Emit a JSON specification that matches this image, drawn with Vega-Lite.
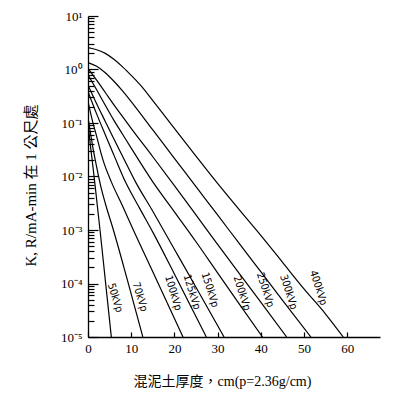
{
  "$schema": "https://vega.github.io/schema/vega-lite/v6.json",
  "width": 292,
  "height": 321,
  "autosize": "none",
  "padding": {"left": 88, "top": 16, "right": 23, "bottom": 60},
  "background": "white",
  "config": {
    "view": {"stroke": null},
    "axis": {"grid": false, "domainColor": "black", "tickColor": "black", "labelColor": "black", "titleColor": "black", "labelFont": "Liberation Serif", "titleFont": "Liberation Serif, Noto Sans CJK TC", "domainWidth": 1.3, "tickWidth": 1.2, "titleFontWeight": "normal"}
  },
  "resolve": {"axis": {"y": "independent"}},
  "datasets": {
    "curves": [
      {"kvp": "400kVp", "t": 0, "K": 2.57}, {"kvp": "400kVp", "t": 2, "K": 2.34}, {"kvp": "400kVp", "t": 4, "K": 2.0}, {"kvp": "400kVp", "t": 6, "K": 1.55}, {"kvp": "400kVp", "t": 8, "K": 1.12}, {"kvp": "400kVp", "t": 10, "K": 0.776}, {"kvp": "400kVp", "t": 12, "K": 0.525}, {"kvp": "400kVp", "t": 15, "K": 0.263}, {"kvp": "400kVp", "t": 20, "K": 0.0794}, {"kvp": "400kVp", "t": 25, "K": 0.024}, {"kvp": "400kVp", "t": 30, "K": 0.00741}, {"kvp": "400kVp", "t": 35, "K": 0.0024}, {"kvp": "400kVp", "t": 40, "K": 0.000794}, {"kvp": "400kVp", "t": 45, "K": 0.000251}, {"kvp": "400kVp", "t": 50, "K": 0.0000794}, {"kvp": "400kVp", "t": 55, "K": 0.0000269}, {"kvp": "400kVp", "t": 59.1, "K": 0.00001},
      {"kvp": "300kVp", "t": 0, "K": 1.35}, {"kvp": "300kVp", "t": 2, "K": 1.15}, {"kvp": "300kVp", "t": 4, "K": 0.871}, {"kvp": "300kVp", "t": 6, "K": 0.603}, {"kvp": "300kVp", "t": 8, "K": 0.398}, {"kvp": "300kVp", "t": 10, "K": 0.251}, {"kvp": "300kVp", "t": 15, "K": 0.0741}, {"kvp": "300kVp", "t": 20, "K": 0.0219}, {"kvp": "300kVp", "t": 25, "K": 0.00646}, {"kvp": "300kVp", "t": 30, "K": 0.00191}, {"kvp": "300kVp", "t": 35, "K": 0.000562}, {"kvp": "300kVp", "t": 40, "K": 0.000166}, {"kvp": "300kVp", "t": 45, "K": 0.000049}, {"kvp": "300kVp", "t": 51.6, "K": 0.00001},
      {"kvp": "250kVp", "t": 0, "K": 1.05}, {"kvp": "250kVp", "t": 2, "K": 0.631}, {"kvp": "250kVp", "t": 4, "K": 0.372}, {"kvp": "250kVp", "t": 6, "K": 0.219}, {"kvp": "250kVp", "t": 8, "K": 0.132}, {"kvp": "250kVp", "t": 10, "K": 0.0794}, {"kvp": "250kVp", "t": 15, "K": 0.0234}, {"kvp": "250kVp", "t": 20, "K": 0.00676}, {"kvp": "250kVp", "t": 25, "K": 0.00191}, {"kvp": "250kVp", "t": 30, "K": 0.000537}, {"kvp": "250kVp", "t": 35, "K": 0.000155}, {"kvp": "250kVp", "t": 40, "K": 0.0000447}, {"kvp": "250kVp", "t": 46, "K": 0.00001},
      {"kvp": "200kVp", "t": 0, "K": 0.794}, {"kvp": "200kVp", "t": 2, "K": 0.417}, {"kvp": "200kVp", "t": 4, "K": 0.214}, {"kvp": "200kVp", "t": 6, "K": 0.112}, {"kvp": "200kVp", "t": 8, "K": 0.0617}, {"kvp": "200kVp", "t": 10, "K": 0.0339}, {"kvp": "200kVp", "t": 15, "K": 0.00794}, {"kvp": "200kVp", "t": 20, "K": 0.00219}, {"kvp": "200kVp", "t": 25, "K": 0.000603}, {"kvp": "200kVp", "t": 30, "K": 0.000158}, {"kvp": "200kVp", "t": 35, "K": 0.0000417}, {"kvp": "200kVp", "t": 40.4, "K": 0.00001},
      {"kvp": "150kVp", "t": 0, "K": 0.513}, {"kvp": "150kVp", "t": 2, "K": 0.229}, {"kvp": "150kVp", "t": 4, "K": 0.107}, {"kvp": "150kVp", "t": 6, "K": 0.0501}, {"kvp": "150kVp", "t": 8, "K": 0.024}, {"kvp": "150kVp", "t": 11, "K": 0.00794}, {"kvp": "150kVp", "t": 15, "K": 0.00224}, {"kvp": "150kVp", "t": 20, "K": 0.000437}, {"kvp": "150kVp", "t": 25, "K": 0.0000851}, {"kvp": "150kVp", "t": 31.5, "K": 0.00001},
      {"kvp": "125kVp", "t": 0, "K": 0.389}, {"kvp": "125kVp", "t": 2, "K": 0.148}, {"kvp": "125kVp", "t": 4, "K": 0.0603}, {"kvp": "125kVp", "t": 6, "K": 0.0251}, {"kvp": "125kVp", "t": 8.66, "K": 0.00794}, {"kvp": "125kVp", "t": 12, "K": 0.00251}, {"kvp": "125kVp", "t": 15, "K": 0.000912}, {"kvp": "125kVp", "t": 20, "K": 0.000151}, {"kvp": "125kVp", "t": 27.4, "K": 0.00001},
      {"kvp": "100kVp", "t": 0, "K": 0.251}, {"kvp": "100kVp", "t": 1, "K": 0.112}, {"kvp": "100kVp", "t": 2, "K": 0.0562}, {"kvp": "100kVp", "t": 3.5, "K": 0.02}, {"kvp": "100kVp", "t": 5.4, "K": 0.00794}, {"kvp": "100kVp", "t": 8, "K": 0.00282}, {"kvp": "100kVp", "t": 10.5, "K": 0.001}, {"kvp": "100kVp", "t": 15, "K": 0.000166}, {"kvp": "100kVp", "t": 22, "K": 0.00001},
      {"kvp": "70kVp", "t": 0, "K": 0.126}, {"kvp": "70kVp", "t": 0.5, "K": 0.0708}, {"kvp": "70kVp", "t": 1, "K": 0.0398}, {"kvp": "70kVp", "t": 2, "K": 0.0151}, {"kvp": "70kVp", "t": 3, "K": 0.00631}, {"kvp": "70kVp", "t": 4, "K": 0.00316}, {"kvp": "70kVp", "t": 5.88, "K": 0.001}, {"kvp": "70kVp", "t": 9, "K": 0.000126}, {"kvp": "70kVp", "t": 12.7, "K": 0.00001},
      {"kvp": "50kVp", "t": 0, "K": 0.1}, {"kvp": "50kVp", "t": 0.5, "K": 0.0417}, {"kvp": "50kVp", "t": 1, "K": 0.0191}, {"kvp": "50kVp", "t": 1.55, "K": 0.00794}, {"kvp": "50kVp", "t": 2.78, "K": 0.001}, {"kvp": "50kVp", "t": 4, "K": 0.000117}, {"kvp": "50kVp", "t": 5.4, "K": 0.00001}
    ],
    "labels": [
      {"kvp": "50kVp", "t": 6.25, "K": 0.000054},
      {"kvp": "70kVp", "t": 12.0, "K": 0.000056},
      {"kvp": "100kVp", "t": 19.7, "K": 0.000066},
      {"kvp": "125kVp", "t": 24.0, "K": 0.000069},
      {"kvp": "150kVp", "t": 28.2, "K": 0.000076},
      {"kvp": "200kVp", "t": 35.6, "K": 0.000066},
      {"kvp": "250kVp", "t": 41.0, "K": 0.000076},
      {"kvp": "300kVp", "t": 46.4, "K": 0.000069},
      {"kvp": "400kVp", "t": 53.3, "K": 0.000083}
    ]
  },
  "layer": [
    {
      "data": {"name": "curves"},
      "mark": {"type": "line", "color": "black", "strokeWidth": 1.2, "interpolate": "monotone", "clip": true},
      "encoding": {
        "x": {"field": "t", "type": "quantitative", "scale": {"domain": [0, 67.6], "nice": false, "zero": false},
          "axis": {"title": "混泥土厚度，cm(p=2.36g/cm)", "titleFontSize": 14, "titleX": 134, "titleY": 44, "titleBaseline": "middle", "titleAnchor": null, "titleAlign": "center", "values": [0, 10, 20, 30, 40, 50, 60], "tickSize": -5, "labelFontSize": 13, "labelPadding": 10, "labelFlush": false}},
        "y": {"field": "K", "type": "quantitative", "scale": {"type": "log", "domain": [0.00001, 10], "nice": false},
          "axis": {"orient": "left", "title": "K, R/mA-min 在 1 公尺處", "titleFontSize": 15, "titleAngle": 270, "titleX": -58, "titleY": 169, "titleBaseline": "middle", "titleAlign": "center",
            "values": [0.00001, 0.0001, 0.001, 0.01, 0.1, 1, 10],
            "labelExpr": "datum.value == 10 ? '10¹' : datum.value == 1 ? '10⁰' : datum.value == 0.1 ? '10⁻¹' : datum.value == 0.01 ? '10⁻²' : datum.value == 0.001 ? '10⁻³' : datum.value == 0.0001 ? '10⁻⁴' : datum.value == 0.00001 ? '10⁻⁵' : ''",
            "tickSize": -10,
            "labelFontSize": 13, "labelPadding": 16, "labelFlush": false, "labelOverlap": false}},
        "detail": {"field": "kvp"}
      }
    },
    {
      "data": {"name": "labels"},
      "mark": {"type": "text", "font": "Liberation Sans Narrow, DejaVu Sans Condensed, Liberation Sans", "fontSize": 10.5, "align": "center", "baseline": "middle", "color": "black"},
      "encoding": {
        "x": {"field": "t", "type": "quantitative"},
        "y": {"field": "K", "type": "quantitative",
          "axis": {"orient": "left", "title": null, "labels": false, "domain": false, "tickSize": -6,
            "values": [0.00002, 0.00003, 0.00004, 0.00005, 0.00006, 0.00007, 0.00008, 0.00009, 0.0002, 0.0003, 0.0004, 0.0005, 0.0006, 0.0007, 0.0008, 0.0009, 0.002, 0.003, 0.004, 0.005, 0.006, 0.007, 0.008, 0.009, 0.02, 0.03, 0.04, 0.05, 0.06, 0.07, 0.08, 0.09, 0.2, 0.3, 0.4, 0.5, 0.6, 0.7, 0.8, 0.9, 2, 3, 4, 5, 6, 7, 8, 9]}},
        "text": {"field": "kvp"},
        "angle": {"field": "kvp", "type": "nominal", "legend": null,
          "scale": {"domain": ["50kVp", "70kVp", "100kVp", "125kVp", "150kVp", "200kVp", "250kVp", "300kVp", "400kVp"], "range": [73, 72, 62, 66, 57, 52, 49, 49, 49]}}
      }
    }
  ]
}
